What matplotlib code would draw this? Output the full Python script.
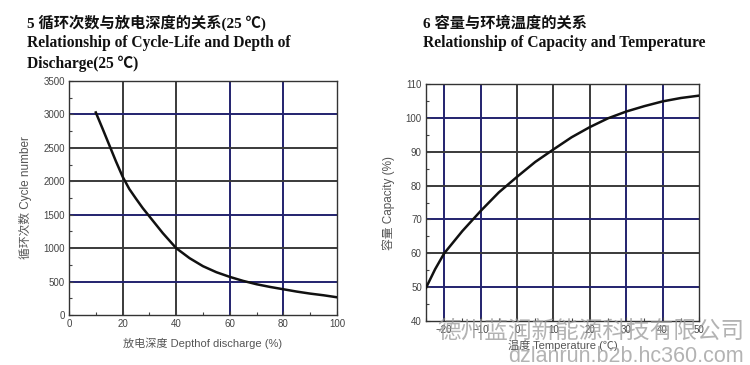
import matplotlib
matplotlib.use("Agg")
import matplotlib.pyplot as plt
import numpy as np
from matplotlib.ticker import MultipleLocator

# cycle life vs depth of discharge (25 C)
dod = [10, 12.5, 15, 17.5, 20, 22.5, 25, 27.5, 30, 35, 40, 45, 50, 55, 60, 65, 70, 75, 80, 85, 90, 95, 100]
cycles = [3030, 2790, 2545, 2300, 2070, 1885, 1740, 1600, 1475, 1225, 1000, 850, 730, 640, 570, 510, 460, 420, 385, 350, 320, 295, 265]

# capacity vs temperature
temp = [-25, -22.5, -20, -15, -10, -5, 0, 5, 10, 15, 20, 25, 30, 35, 40, 45, 50]
capacity = [49.8, 55.3, 60, 66.6, 72.5, 78, 82.6, 87, 90.7, 94.3, 97.3, 99.9, 101.9, 103.5, 104.9, 105.9, 106.6]

navy = '#23236e'
dgrey = '#3a3a3a'
cjk = ['Liberation Sans', 'Noto Sans CJK SC']
serif = ['Liberation Serif', 'Noto Sans CJK SC']

fig = plt.figure(figsize=(7.5, 3.65), dpi=100)
fig.patch.set_facecolor('white')

def style_ax(ax):
    for s in ax.spines.values():
        s.set_color('#333333')
        s.set_linewidth(1.0)
    ax.tick_params(which='both', direction='in', color='#444444', labelsize=7,
                   labelcolor='#444444', length=3, width=0.8, pad=3)
    ax.tick_params(which='minor', length=2)
    for lab in ax.get_xticklabels() + ax.get_yticklabels():
        lab.set_family(cjk)

# left chart
ax1 = fig.add_axes([0.092, 0.137, 0.3573, 0.641])
vcol1 = {20: dgrey, 40: dgrey, 60: navy, 80: navy}
hcol1 = {500: navy, 1000: dgrey, 1500: navy, 2000: dgrey, 2500: dgrey, 3000: navy}
for x, c in vcol1.items():
    ax1.axvline(x, color=c, lw=1.4, zorder=1)
for y, c in hcol1.items():
    ax1.axhline(y, color=c, lw=1.4, zorder=1)
ax1.plot(dod, cycles, color='#111111', lw=1.8, zorder=3)
ax1.set_xlim(0, 100)
ax1.set_ylim(0, 3500)
ax1.xaxis.set_major_locator(MultipleLocator(20))
ax1.xaxis.set_minor_locator(MultipleLocator(10))
ax1.yaxis.set_major_locator(MultipleLocator(500))
ax1.yaxis.set_minor_locator(MultipleLocator(250))
style_ax(ax1)
ax1.set_xlabel('放电深度 Depthof discharge (%)', family=cjk, fontsize=8, color='#555555', labelpad=6)
ax1.set_ylabel('循环次数 Cycle number', family=cjk, fontsize=8.5, color='#555555', labelpad=8)

# right chart
ax2 = fig.add_axes([0.568, 0.1205, 0.364, 0.649])
vcol2 = {-20: navy, -10: navy, 0: dgrey, 10: dgrey, 20: dgrey, 30: navy, 40: navy}
hcol2 = {50: navy, 60: dgrey, 70: navy, 80: dgrey, 90: dgrey, 100: navy}
for x, c in vcol2.items():
    ax2.axvline(x, color=c, lw=1.4, zorder=1)
for y, c in hcol2.items():
    ax2.axhline(y, color=c, lw=1.4, zorder=1)
ax2.plot(temp, capacity, color='#111111', lw=1.8, zorder=3)
ax2.set_xlim(-25, 50)
ax2.set_ylim(40, 110)
ax2.xaxis.set_major_locator(MultipleLocator(10))
ax2.xaxis.set_minor_locator(MultipleLocator(5))
ax2.yaxis.set_major_locator(MultipleLocator(10))
ax2.yaxis.set_minor_locator(MultipleLocator(5))
style_ax(ax2)
ax2.set_xlabel('温度 Temperature (℃)', family=cjk, fontsize=8, color='#555555', labelpad=3)
ax2.set_ylabel('容量 Capacity (%)', family=cjk, fontsize=8.5, color='#555555', labelpad=8)

# titles
fig.text(0.036, 0.925, '5 循环次数与放电深度的关系(25 ℃)', family=serif, fontsize=11, weight='bold', color='#111111')
fig.text(0.036, 0.872, 'Relationship of Cycle-Life and Depth of', family=serif, fontsize=11.2, weight='bold', color='#111111')
fig.text(0.036, 0.815, 'Discharge(25 ℃)', family=serif, fontsize=11.2, weight='bold', color='#111111')
fig.text(0.564, 0.925, '6 容量与环境温度的关系', family=serif, fontsize=11, weight='bold', color='#111111')
fig.text(0.564, 0.872, 'Relationship of Capacity and Temperature', family=serif, fontsize=11.2, weight='bold', color='#111111')

# watermark
fig.text(0.583, 0.075, '德州蓝润新能源科技有限公司', family=cjk, fontsize=17, color='#9a9a9a', alpha=0.75)
fig.text(0.677, 0.008, 'dzlanrun.b2b.hc360.com', family=cjk, fontsize=15.5, color='#9a9a9a', alpha=0.75)

fig.savefig('out.png', dpi=100)
